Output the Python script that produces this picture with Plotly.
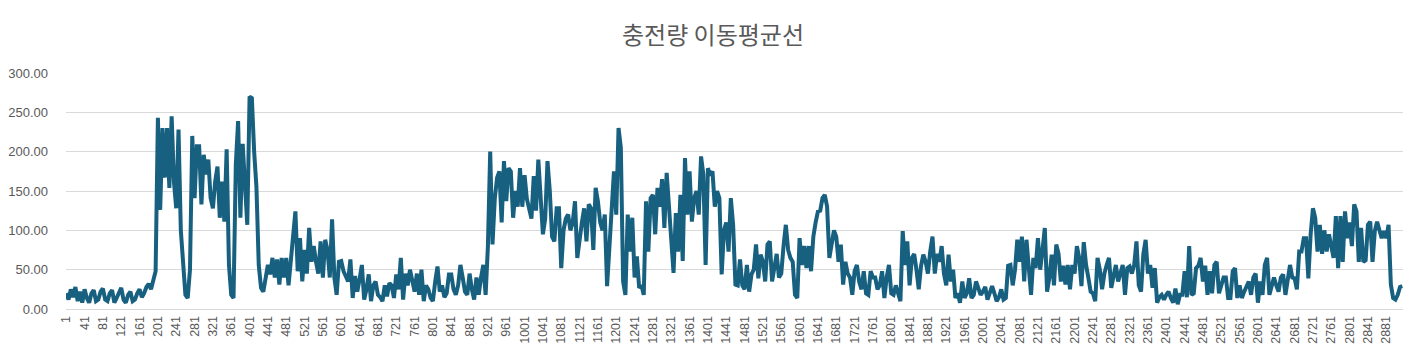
import plotly.graph_objects as go

# Category positions sampled every 5 points
sample_index = list(range(1, 2917, 5))

charge_ma = [
    # 1 .. 226
    20, 12, 25, 15, 28, 10, 22, 8, 25, 14,
    8, 20, 24, 10, 12, 22, 26, 12, 10, 20,
    24, 8, 14, 22, 27, 12, 8, 18, 22, 10,
    12, 20, 25, 15, 20, 28, 32, 25, 38, 48,
    243, 126, 230, 167, 230, 154,
    # 231 .. 471
    245, 162, 128, 228, 100, 52, 18, 14, 50, 220,
    141, 207, 207, 133, 196, 171, 190, 141, 128, 162,
    181, 116, 162, 111, 203, 56, 18, 14, 184, 239,
    116, 210, 158, 107, 270, 268, 200, 155, 56, 27,
    22, 39, 56, 44, 65, 40, 63, 31, 65,
    # 476 .. 721
    40, 65, 30, 60, 82, 124, 48, 90, 35, 75,
    45, 103, 60, 80, 60, 45, 86, 40, 88, 75,
    40, 114, 40, 18, 60, 61, 48, 40, 35, 63,
    14, 42, 22, 38, 56, 12, 25, 44, 10, 30,
    35, 18, 15, 10, 30, 16, 33, 30, 14, 44,
    # 726 .. 966
    25, 65, 12, 45, 30, 50, 35, 22, 45, 18,
    50, 10, 30, 25, 14, 10, 35, 54, 22, 30,
    15, 20, 44, 44, 25, 18, 30, 56, 40, 22,
    18, 45, 25, 12, 40, 18, 40, 56, 18, 80,
    200, 82, 140, 167, 175, 110, 188, 137, 179,
    # 971 .. 1206
    175, 116, 150, 130, 179, 130, 170, 140, 128, 115,
    169, 125, 190, 150, 95, 115, 188, 150, 92, 86,
    128, 128, 52, 100, 115, 120, 100, 110, 137, 65,
    90, 110, 128, 86, 133, 128, 75, 154, 137, 110,
    100, 120, 29, 80, 145, 175, 120, 230,
    # 1211 .. 1451
    205, 35, 18, 120, 73, 116, 40, 67, 27, 30,
    18, 137, 73, 141, 145, 95, 154, 130, 165, 103,
    173, 130, 86, 46, 122, 73, 145, 61, 192, 120,
    175, 111, 141, 150, 120, 194, 171, 56, 179, 170,
    175, 130, 150, 141, 44, 100, 110, 73, 141,
    # 1456 .. 1696
    107, 31, 30, 63, 30, 25, 56, 22, 44, 50,
    82, 39, 69, 60, 35, 82, 86, 35, 55, 70,
    40, 45, 80, 107, 75, 65, 60, 18, 14, 90,
    56, 80, 52, 80, 48, 92, 110, 124, 125, 141,
    145, 130, 65, 85, 100, 92, 60, 82, 31,
    # 1701 .. 1941
    60, 45, 40, 18, 48, 56, 35, 25, 48, 20,
    18, 48, 40, 40, 25, 30, 48, 14, 40, 56,
    20, 18, 30, 20, 10, 99, 56, 86, 30, 65,
    70, 50, 25, 55, 69, 60, 45, 73, 92, 45,
    70, 60, 80, 45, 30, 69, 35, 50, 14,
    # 1946 .. 2186
    20, 8, 35, 14, 20, 39, 14, 18, 35, 28,
    18, 22, 28, 12, 20, 29, 20, 10, 15, 25,
    12, 14, 55, 56, 30, 50, 88, 60, 92, 35,
    88, 56, 18, 65, 52, 90, 50, 75, 103, 22,
    40, 69, 30, 82, 70, 35, 55, 31, 56,
    # 2191 .. 2431
    25, 56, 45, 80, 65, 29, 85, 56, 40, 22,
    20, 10, 65, 50, 25, 45, 56, 65, 27, 45,
    56, 35, 45, 56, 18, 52, 54, 45, 56, 86,
    30, 22, 70, 88, 45, 56, 27, 52, 8, 15,
    18, 12, 18, 22, 14, 8, 26, 6, 18,
    # 2436 .. 2671
    18, 48, 15, 80, 18, 20, 52, 55, 65, 35,
    55, 18, 48, 20, 56, 60, 20, 30, 40, 40,
    14, 14, 48, 52, 14, 30, 14, 22, 30, 35,
    18, 40, 45, 8, 35, 18, 56, 65, 18, 30,
    40, 30, 22, 40, 44, 18, 40, 56,
    # 2676 .. 2916
    40, 39, 25, 73, 73, 90, 90, 39, 95, 128,
    116, 73, 107, 70, 100, 73, 95, 82, 65, 118,
    52, 118, 60, 124, 90, 110, 80, 133, 124, 60,
    103, 60, 62, 107, 111, 60, 99, 111, 99, 90,
    99, 90, 107, 31, 14, 12, 18, 28, 29,
]

n = min(len(sample_index), len(charge_ma))
sample_index = sample_index[:n]
charge_ma = charge_ma[:n]

tick_vals = list(range(1, 2882, 40))
tick_text = [str(v) for v in tick_vals]
y_ticks = [0, 50, 100, 150, 200, 250, 300]

fig = go.Figure()
fig.add_trace(go.Scatter(
    x=sample_index, y=charge_ma, mode="lines",
    line=dict(color="#186080", width=4),
    hoverinfo="x+y", showlegend=False,
))

font_family = "Liberation Sans, Arial, Noto Sans CJK KR, sans-serif"
fig.update_layout(
    width=1410, height=353,
    margin=dict(l=58, r=15, t=65, b=52, autoexpand=False),
    paper_bgcolor="white", plot_bgcolor="white",
    title=dict(text="충전량 이동평균선", x=0.5, xanchor="center", y=0.923, yanchor="middle",
               font=dict(family="Noto Sans CJK KR, sans-serif", size=24, color="#595959")),
    font=dict(family=font_family, color="#595959"),
)
fig.update_xaxes(
    range=[0.5, 2917.5], tickmode="array", tickvals=tick_vals, ticktext=tick_text,
    tickangle=-90, tickfont=dict(size=12.5, color="#595959", family=font_family),
    showgrid=False, zeroline=False, showline=True, linecolor="#d9d9d9", linewidth=1,
    ticks="", ticklabelstandoff=1, automargin=False,
)
fig.update_yaxes(
    range=[0, 300], tickmode="array", tickvals=y_ticks, tickformat=".2f",
    tickfont=dict(size=13, color="#595959", family=font_family),
    showgrid=True, gridcolor="#d9d9d9", gridwidth=1, zeroline=False, showline=False,
    ticks="", ticklabelstandoff=17, automargin=False,
)

fig.write_html("out.html")
